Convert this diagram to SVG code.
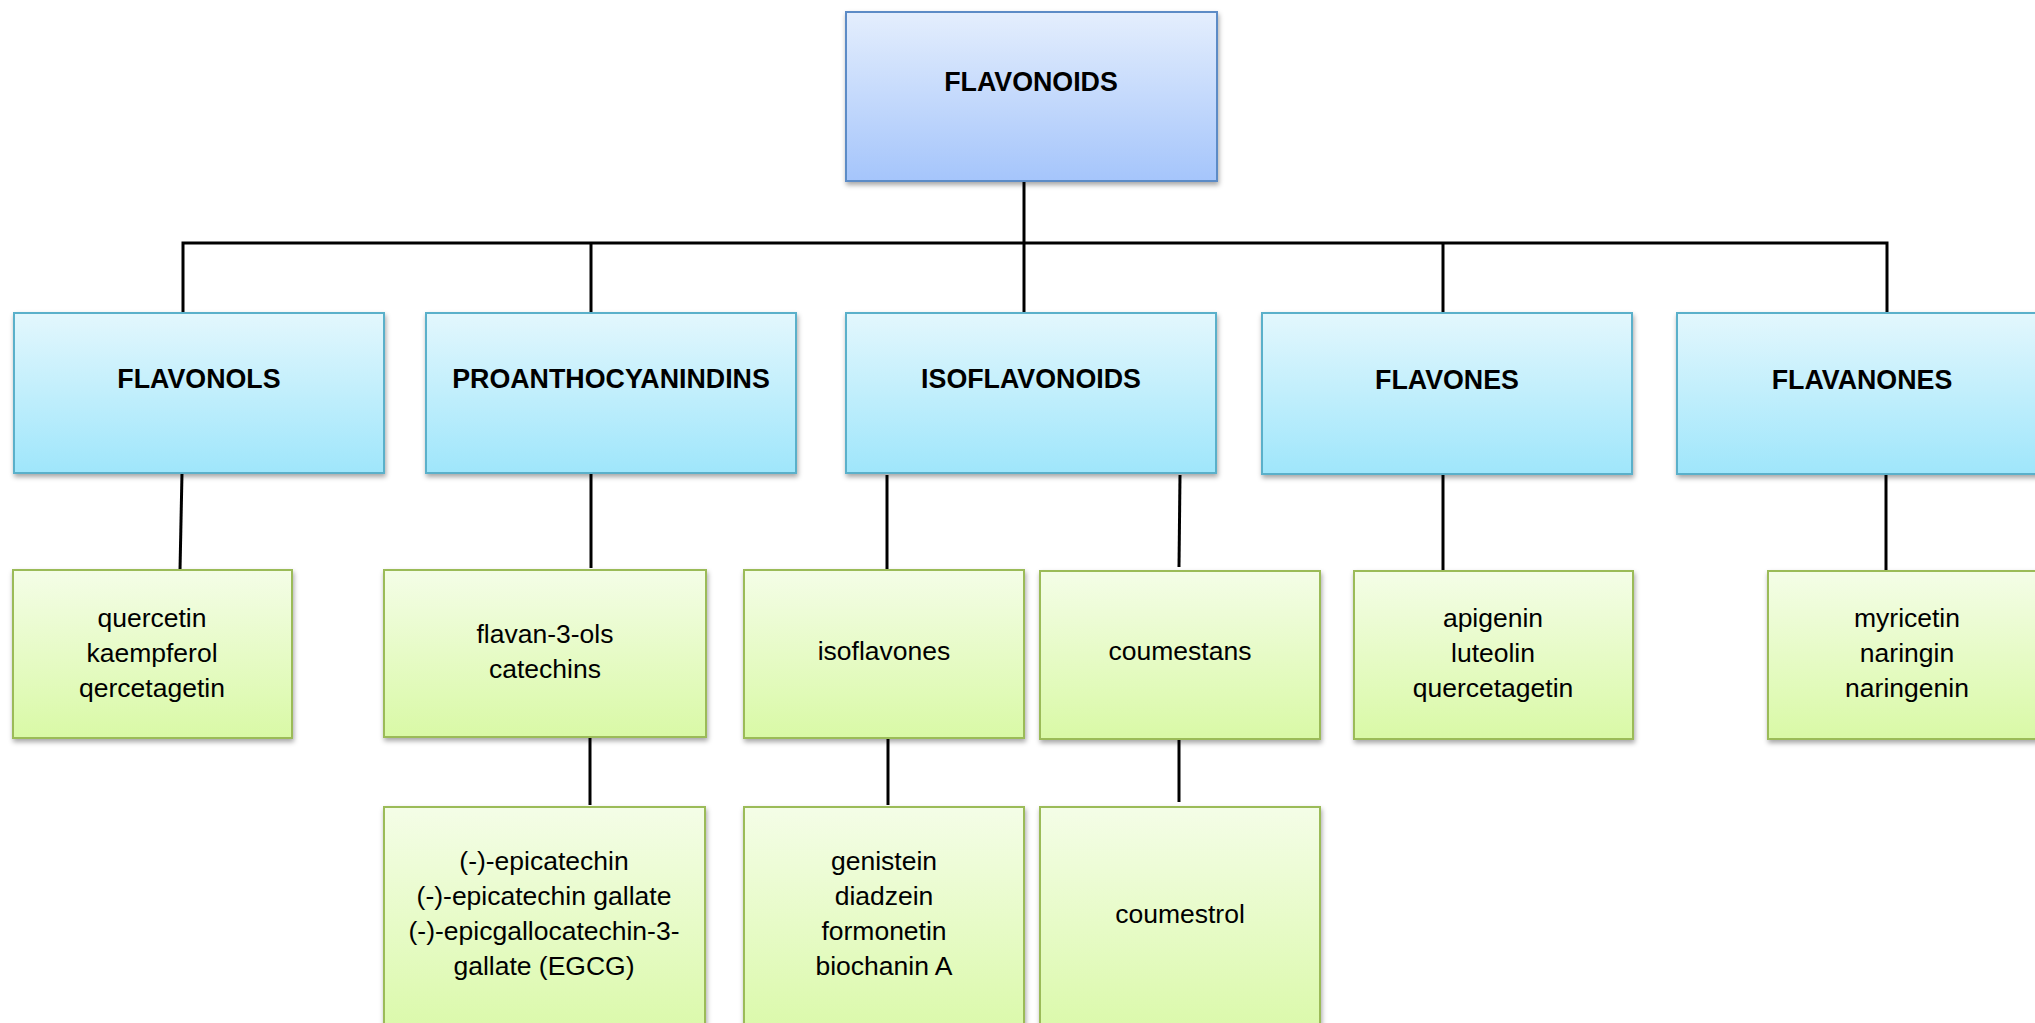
<svg xmlns="http://www.w3.org/2000/svg" width="2035" height="1023" viewBox="0 0 2035 1023">
<defs>
<linearGradient id="gTop" x1="0" y1="0" x2="0" y2="1"><stop offset="0" stop-color="#e4eefd"/><stop offset="1" stop-color="#a5c5fb"/></linearGradient>
<linearGradient id="gMid" x1="0" y1="0" x2="0" y2="1"><stop offset="0" stop-color="#e3f7fd"/><stop offset="1" stop-color="#9fe6fb"/></linearGradient>
<linearGradient id="gLow" x1="0" y1="0" x2="0" y2="1"><stop offset="0" stop-color="#f4fde7"/><stop offset="1" stop-color="#d9f9a6"/></linearGradient>
<filter id="sh" x="-10%" y="-10%" width="120%" height="130%"><feDropShadow dx="1" dy="3" stdDeviation="2.5" flood-color="#000" flood-opacity="0.35"/></filter>
</defs>
<style>
.top{fill:url(#gTop);stroke:#5b8bc6;stroke-width:2;filter:url(#sh)}
.mid{fill:url(#gMid);stroke:#5ab0ca;stroke-width:2;filter:url(#sh)}
.low{fill:url(#gLow);stroke:#9bbb59;stroke-width:2;filter:url(#sh)}
.h{font-family:"Liberation Sans",Arial,sans-serif;font-size:26.8px;font-weight:bold;fill:#000;text-anchor:middle}
.t{font-family:"Liberation Sans",Arial,sans-serif;font-size:26.5px;fill:#000;text-anchor:middle}
.c{stroke:#000;stroke-width:3;fill:none}
</style>
<rect width="2035" height="1023" fill="#fff"/>
<g id="connectors">
<line class="c" x1="1024" y1="181" x2="1024" y2="313"/>
<polyline class="c" points="183,313 183,243 1887,243 1887,313"/>
<line class="c" x1="591" y1="243" x2="591" y2="313"/>
<line class="c" x1="1443" y1="243" x2="1443" y2="313"/>
<line class="c" x1="182" y1="473" x2="180" y2="570"/>
<line class="c" x1="591" y1="473" x2="591" y2="568"/>
<line class="c" x1="590" y1="737" x2="590" y2="805"/>
<line class="c" x1="887" y1="475" x2="887" y2="570"/>
<line class="c" x1="1180" y1="475" x2="1179" y2="567"/>
<line class="c" x1="888" y1="738" x2="888" y2="805"/>
<line class="c" x1="1179" y1="739" x2="1179" y2="802"/>
<line class="c" x1="1443" y1="474" x2="1443" y2="571"/>
<line class="c" x1="1886" y1="474" x2="1886" y2="571"/>
</g>
<g id="flavonoids"><rect class="top" x="846" y="12" width="371" height="169"/><text class="h" x="1031" y="91">FLAVONOIDS</text></g>
<g id="flavonols"><rect class="mid" x="14" y="313" width="370" height="160"/><text class="h" x="199" y="388">FLAVONOLS</text></g>
<g id="proanthocyanindins"><rect class="mid" x="426" y="313" width="370" height="160"/><text class="h" x="611" y="388">PROANTHOCYANINDINS</text></g>
<g id="isoflavonoids"><rect class="mid" x="846" y="313" width="370" height="160"/><text class="h" x="1031" y="388">ISOFLAVONOIDS</text></g>
<g id="flavones"><rect class="mid" x="1262" y="313" width="370" height="161"/><text class="h" x="1447" y="389">FLAVONES</text></g>
<g id="flavanones"><rect class="mid" x="1677" y="313" width="371" height="161"/><text class="h" x="1862" y="389">FLAVANONES</text></g>
<g id="quercetin"><rect class="low" x="13" y="570" width="279" height="168"/><text class="t" x="152" y="627">quercetin</text><text class="t" x="152" y="662">kaempferol</text><text class="t" x="152" y="697">qercetagetin</text></g>
<g id="flavan3ols"><rect class="low" x="384" y="570" width="322" height="167"/><text class="t" x="545" y="643">flavan-3-ols</text><text class="t" x="545" y="678">catechins</text></g>
<g id="isoflavones"><rect class="low" x="744" y="570" width="280" height="168"/><text class="t" x="884" y="660">isoflavones</text></g>
<g id="coumestans"><rect class="low" x="1040" y="571" width="280" height="168"/><text class="t" x="1180" y="660">coumestans</text></g>
<g id="apigenin"><rect class="low" x="1354" y="571" width="279" height="168"/><text class="t" x="1493" y="627">apigenin</text><text class="t" x="1493" y="662">luteolin</text><text class="t" x="1493" y="697">quercetagetin</text></g>
<g id="myricetin"><rect class="low" x="1768" y="571" width="279" height="168"/><text class="t" x="1907" y="627">myricetin</text><text class="t" x="1907" y="662">naringin</text><text class="t" x="1907" y="697">naringenin</text></g>
<g id="epicatechin"><rect class="low" x="384" y="807" width="321" height="240"/><text class="t" x="544" y="870">(-)-epicatechin</text><text class="t" x="544" y="905">(-)-epicatechin gallate</text><text class="t" x="544" y="940">(-)-epicgallocatechin-3-</text><text class="t" x="544" y="975">gallate (EGCG)</text></g>
<g id="genistein"><rect class="low" x="744" y="807" width="280" height="240"/><text class="t" x="884" y="870">genistein</text><text class="t" x="884" y="905">diadzein</text><text class="t" x="884" y="940">formonetin</text><text class="t" x="884" y="975">biochanin A</text></g>
<g id="coumestrol"><rect class="low" x="1040" y="807" width="280" height="240"/><text class="t" x="1180" y="923">coumestrol</text></g>
</svg>
